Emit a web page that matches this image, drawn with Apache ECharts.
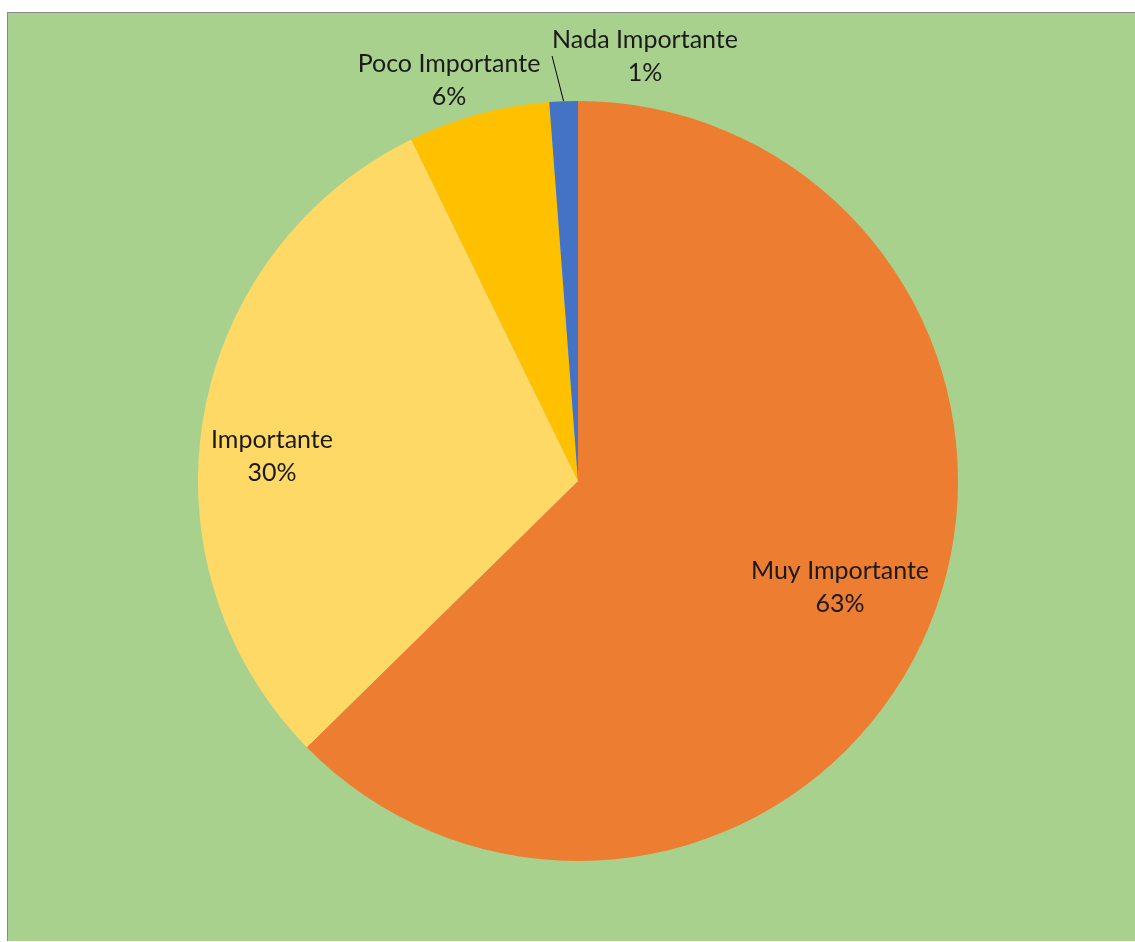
<!DOCTYPE html>
<html>
<head>
<meta charset="utf-8">
<script src="https://cdn.jsdelivr.net/npm/echarts@6/dist/echarts.min.js"></script>
<style>
html,body{margin:0;padding:0;background:#ffffff;width:1135px;height:942px;overflow:hidden;}
#bg{position:absolute;left:7px;top:12px;width:1140px;height:928px;background:#A9D18E;border-left:1px solid #8a8a8a;border-top:1px solid #8a8a8a;}
#chart{position:absolute;left:0;top:0;width:1135px;height:942px;}
</style>
</head>
<body>
<div id="bg"></div>
<div id="chart"></div>
<script>
// Data
const categories = ['Muy Importante', 'Importante', 'Poco Importante', 'Nada Importante'];
const counts = [52, 25, 5, 1];
const colors = ['#ED7D31', '#FFD966', '#FFC000', '#4472C4'];

// Label placement (layout, not data)
const labelCenters = [[840, 587], [272, 456], [449, 80], [645, 56]];

const chart = echarts.init(document.getElementById('chart'), null, {renderer: 'canvas'});
const data = categories.map((c, i) => ({
  name: c,
  value: counts[i],
  itemStyle: {color: colors[i]},
  label: {position: i < 2 ? 'inside' : 'outside'},
  labelLine: {show: i === 3, lineStyle: {color: '#000000', width: 1}}
}));

chart.setOption({
  backgroundColor: 'transparent',
  animation: false,
  series: [{
    type: 'pie',
    center: [578, 481],
    radius: 380,
    startAngle: 90,
    clockwise: true,
    data: data,
    label: {
      show: true,
      formatter: p => p.name + '\n' + Math.round(p.percent) + '%',
      fontFamily: 'Lato',
      fontSize: 25,
      lineHeight: 33,
      color: '#1a1a1a',
      align: 'center'
    },
    labelLine: {length: 10, length2: 0},
    labelLayout: function (params) {
      const c = labelCenters[params.dataIndex];
      return {x: c[0], y: c[1], align: 'center', verticalAlign: 'middle'};
    },
    emphasis: {disabled: true}
  }]
});
</script>
</body>
</html>
